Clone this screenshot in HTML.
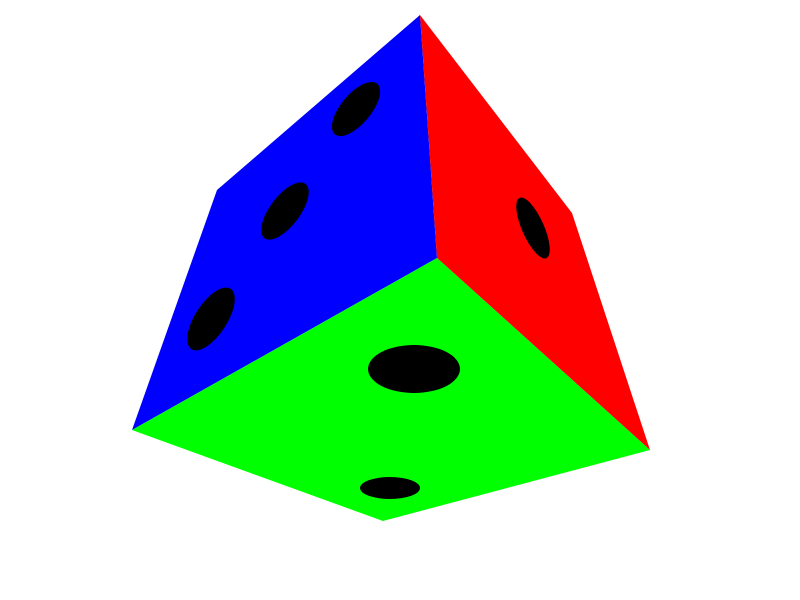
<!DOCTYPE html>
<html>
<head>
<meta charset="utf-8">
<style>
  html, body { margin: 0; padding: 0; background: #ffffff; }
  svg { display: block; }
</style>
</head>
<body>
<svg width="800" height="600" viewBox="0 0 800 600">
  <rect x="0" y="0" width="800" height="600" fill="#ffffff"/>
  <g>
    <polygon points="420,15 217,190 132,430 437,258" fill="#0000ff"/>
    <ellipse cx="356" cy="109" rx="33" ry="15" transform="rotate(-50 356 109)" fill="#000"/>
    <ellipse cx="285" cy="211" rx="34" ry="15" transform="rotate(-53 285 211)" fill="#000"/>
    <ellipse cx="211" cy="319" rx="36" ry="16" transform="rotate(-57 211 319)" fill="#000"/>
  </g>
  <g>
    <polygon points="420,15 572,213 650,450 437,258" fill="#ff0000"/>
    <ellipse cx="533" cy="228" rx="33" ry="11" transform="rotate(66 533 228)" fill="#000"/>
  </g>
  <g>
    <polygon points="132,430 437,258 650,450 383,521" fill="#00ff00"/>
    <ellipse cx="414" cy="369" rx="46" ry="24" fill="#000"/>
    <ellipse cx="390" cy="488" rx="30" ry="11" fill="#000"/>
  </g>
</svg>
</body>
</html>
